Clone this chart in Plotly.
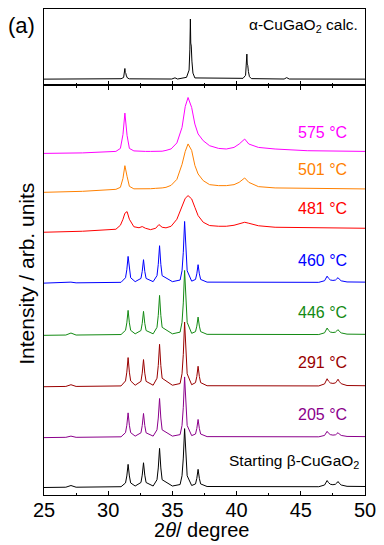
import plotly.graph_objects as go

# ---------------- data ----------------
# calculated alpha-CuGaO2 pattern (top panel)
calc_x = [25.0, 31.0, 31.2, 31.26, 31.3, 31.33, 31.37, 31.42, 31.5, 31.65, 34.95, 35.2, 35.4,
          36.1, 36.3, 36.36, 36.4, 36.43, 36.47, 36.52, 36.6, 36.75, 40.5, 40.7, 40.76, 40.8,
          40.83, 40.87, 40.92, 41.0, 41.15, 43.7, 43.9, 44.1, 50.0]
calc_y = [0, 0.4, 1.6, 5.3, 10.6, 6.4, 5.8, 3.2, 1.1, 0.3, 0.1, 1.3, 0.1,
          1.8, 9, 30, 60, 36, 33, 18, 6, 1.2, 0.8, 3.8, 12.5, 25,
          15, 13.6, 7.5, 2.5, 0.5, 0.1, 1.5, 0.1, 0]
calc_offset = 6

# beta-phase patterns (shared 2theta grid)
beta_x = [25.0, 26.7, 27.1, 27.5, 31.0, 31.35, 31.45, 31.55, 31.65, 31.75, 32.1, 32.55, 32.65,
          32.75, 32.85, 32.95, 33.5, 33.8, 33.9, 34.0, 34.1, 34.2, 35.0, 35.6, 35.75, 35.85,
          35.95, 36.05, 36.15, 36.5, 36.8, 36.9, 37.0, 37.1, 37.2, 37.7, 46.4, 46.85, 46.95,
          47.05, 47.15, 47.3, 47.5, 47.7, 47.8, 47.9, 48.0, 48.15, 48.6, 50.0]
start_y = [0, 0.3, 2, 0.3, 0.8, 4.6, 11.6, 23.2, 11.6, 4.6, 1.5, 5, 12.4, 24.8, 12.4, 5, 1.5,
           7.8, 19.6, 39.2, 19.6, 7.8, 1.5, 3, 11.8, 29.5, 59, 29.5, 11.8, 2, 3.6, 9.1, 18.2,
           9.1, 3.6, 1, 0.8, 2.5, 4.5, 7, 5, 3.3, 2.8, 3.3, 4.5, 6, 4.2, 2.5, 1.2, 1]
t205_y = [0, 0.3, 1.5, 0.3, 0.8, 5, 12.4, 24.8, 12.4, 5, 1.5, 4.8, 12.1, 24.2, 12.1, 4.8, 1.5,
          7.8, 19.6, 39.2, 19.6, 7.8, 1.5, 3, 12.2, 30.4, 60.8, 30.4, 12.2, 2, 3.6, 9.1, 18.2,
          9.1, 3.6, 1, 0.8, 2.2, 4, 6.3, 4.5, 3, 2.5, 2.8, 3.8, 5, 3.5, 2.2, 1.2, 1]
t291_y = [0, 0.3, 2, 0.3, 0.8, 5.8, 14.6, 29.2, 14.6, 5.8, 1.5, 5.4, 13.6, 27.2, 13.6, 5.4, 1.5,
          8.5, 21.2, 42.5, 21.2, 8.5, 1.5, 3.2, 13, 32.4, 64.8, 32.4, 13, 2, 4.1, 10.2, 20.5,
          10.2, 4.1, 1, 0.8, 2.8, 5.2, 8, 5.7, 3.8, 3.3, 3.8, 5.5, 7.5, 5.2, 3, 1.2, 1]
t446_y = [0, 0.3, 2.3, 0.3, 0.8, 5, 12.5, 25, 12.5, 5, 1.5, 4.8, 12, 24, 12, 4.8, 1.5,
          8, 20, 40, 20, 8, 1.5, 3.2, 13, 32.5, 65, 32.5, 13, 2, 3.7, 9.2, 18.3,
          9.2, 3.7, 1, 0.8, 2.5, 4.6, 7.3, 5.2, 3.3, 2.8, 3.2, 4.4, 5.7, 4, 2.4, 1.2, 1]
t460_y = [0, 0.3, 1, 0.3, 0.8, 5.4, 13.4, 26.8, 13.4, 5.4, 1.5, 4.7, 11.8, 23.5, 11.8, 4.7, 1.5,
          7.5, 18.8, 37.5, 18.8, 7.5, 1.5, 3.1, 12.4, 30.9, 61.8, 30.9, 12.4, 2, 3.7, 9.3, 18.5,
          9.3, 3.7, 1, 0.8, 2.4, 4.4, 7, 5, 3.2, 2.7, 3.1, 4.3, 5.5, 3.9, 2.3, 1.2, 1]

# high-temperature patterns (shared 2theta grid)
ht_x = [25.0, 28.0, 30.6, 30.95, 31.15, 31.3, 31.47, 31.65, 32.0, 32.4, 32.65, 32.9, 33.3, 33.7,
        33.95, 34.2, 34.5, 34.9, 35.35, 35.75, 36.0, 36.22, 36.5, 36.75, 37.0, 37.4, 37.9,
        38.6, 39.2, 39.8, 40.2, 40.63, 40.95, 41.7, 43.0, 45.5, 50.0]
t481_y = [0, 1, 3, 7, 13, 19, 20.7, 13, 5.5, 4.5, 5.7, 4, 2.6, 4, 7.7, 5, 4.4, 6, 13, 26.7,
          34, 36.7, 33.4, 25, 16.7, 10, 6.7, 6, 6, 7, 8.4, 10, 9, 6.5, 5, 4.4, 4]
t501_y = [0, 1, 3, 5, 14, 26.7, 16, 6, 3.5, 3.4, 3.4, 3.4, 3.6, 4, 4, 4.4, 5, 7, 13, 28,
          41, 48.5, 42, 27, 18.4, 11.7, 7.7, 6.7, 6.7, 7.7, 10, 14.4, 10, 5.7, 4.4, 4, 3.4]
t575_y = [0, 0.5, 2, 5, 19, 40.4, 18, 5, 2.5, 2, 2, 2, 2, 2, 2, 2.2, 3, 4.5, 10.5, 26,
          47, 56, 46, 29.4, 19.5, 12.7, 7.7, 5, 4.4, 6, 9.4, 14.4, 9.4, 6, 4.4, 2.7, 2]

labels = ["Starting β-CuGaO<sub>2</sub>", "205 °C", "291 °C", "446 °C", "460 °C",
          "481 °C", "501 °C", "575 °C"]
offsets = [7.5, 57.5, 108.5, 160, 212.3, 263.3, 303.3, 342.3]
label_y = [33.3, 81, 132.3, 183.3, 235, 287.3, 325.7, 363.3]
colors = ["#000000", "#8B008B", "#990000", "#138A13", "#0000FF", "#FF0000", "#FF8000", "#FF00FF"]
series_x = [beta_x, beta_x, beta_x, beta_x, beta_x, ht_x, ht_x, ht_x]
series_y = [start_y, t205_y, t291_y, t446_y, t460_y, t481_y, t501_y, t575_y]

x_ticks = [25, 30, 35, 40, 45, 50]

# ---------------- figure ----------------
FONT = "Liberation Sans, Arial, sans-serif"
fig = go.Figure()

fig.add_trace(go.Scatter(x=calc_x, y=[v + calc_offset for v in calc_y], mode="lines",
                         line=dict(color="black", width=1), xaxis="x2", yaxis="y2",
                         showlegend=False, hoverinfo="skip"))

for xs, ys, off, col in zip(series_x, series_y, offsets, colors):
    fig.add_trace(go.Scatter(x=xs, y=[v + off for v in ys], mode="lines",
                             line=dict(color=col, width=1), xaxis="x", yaxis="y",
                             showlegend=False, hoverinfo="skip"))

annotations = []
for i, (lab, ly, col) in enumerate(zip(labels, label_y, colors)):
    annotations.append(dict(x=49.72 if i == 0 else 48.75, y=ly, xref="x", yref="y", text=lab,
                            showarrow=False, xanchor="right", yanchor="middle",
                            font=dict(family=FONT, size=16 if i else 15.5, color=col)))
annotations.append(dict(x=49.62, y=59.3, xref="x2", yref="y2", text="α-CuGaO<sub>2</sub> calc.",
                        showarrow=False, xanchor="right", yanchor="middle",
                        font=dict(family=FONT, size=15.5, color="black")))
annotations.append(dict(x=-0.07, y=0.967, xref="paper", yref="paper", text="(a)",
                        showarrow=False, xanchor="center", yanchor="middle",
                        font=dict(family=FONT, size=22, color="black")))
annotations.append(dict(x=0.49, y=-0.072, xref="paper", yref="paper",
                        text="2<i>θ</i>/ degree", showarrow=False, xanchor="center",
                        yanchor="middle", font=dict(family=FONT, size=20, color="black")))
annotations.append(dict(x=-0.055, y=0.456, xref="paper", yref="paper",
                        text="Intensity / arb. units", showarrow=False, textangle=-90,
                        xanchor="center", yanchor="middle",
                        font=dict(family=FONT, size=21, color="black")))

split = 410.7 / 487

fig.update_layout(
    width=384, height=545, autosize=False,
    margin=dict(l=44, r=12, t=8, b=50, pad=0),
    paper_bgcolor="white", plot_bgcolor="white",
    font=dict(family=FONT, color="black"),
    annotations=annotations,
    xaxis=dict(domain=[0, 1], range=[25, 50], anchor="y", tickmode="array", tickvals=x_ticks,
               ticks="inside", ticklen=4.5, tickwidth=1, tickcolor="black",
               minor=dict(ticks="inside", ticklen=2.5, tickwidth=1, tickcolor="black",
                          tickvals=[27.5, 32.5, 37.5, 42.5, 47.5]),
               showline=True, linecolor="black", linewidth=1, mirror="ticks",
               showgrid=False, zeroline=False, tickfont=dict(size=20, family=FONT),
               ticklabelstandoff=-3),
    yaxis=dict(domain=[0, split], range=[0, 410.7], anchor="x", showticklabels=False,
               ticks="", showline=True, linecolor="black", linewidth=1, mirror=True,
               showgrid=False, zeroline=False),
    xaxis2=dict(domain=[0, 1], range=[25, 50], anchor="y2", tickmode="array", tickvals=x_ticks,
                ticks="inside", ticklen=4.5, tickwidth=1, tickcolor="black",
                minor=dict(ticks="inside", ticklen=2.5, tickwidth=1, tickcolor="black",
                           tickvals=[27.5, 32.5, 37.5, 42.5, 47.5]),
                showticklabels=False, showline=True, linecolor="black", linewidth=1,
                mirror=True, showgrid=False, zeroline=False),
    yaxis2=dict(domain=[split, 1], range=[0, 76], anchor="x2", showticklabels=False,
                ticks="", showline=True, linecolor="black", linewidth=1, mirror=True,
                showgrid=False, zeroline=False),
)

fig.write_html("out.html", config={"displayModeBar": False},
               post_script="document.body.style.margin='0';")
